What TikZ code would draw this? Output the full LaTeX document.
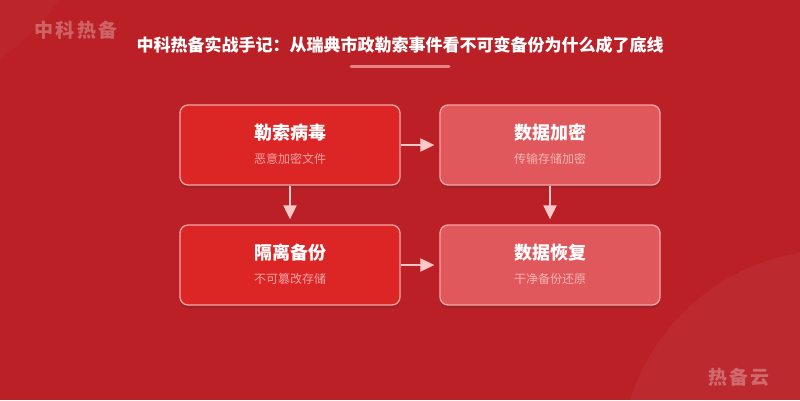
\documentclass[tikz,border=0pt]{standalone}
\usepackage{fontspec}
\newfontfamily\cjk{Noto Sans CJK SC}
\newfontfamily\cjkwide{Noto Sans CJK SC}[LetterSpace=12]
\usetikzlibrary{calc,shadows,arrows.meta}

\definecolor{bgred}{HTML}{BA2025}
\definecolor{hotred}{HTML}{DC2626}
\definecolor{softred}{HTML}{E0585C}
\definecolor{pinkline}{HTML}{F9A3A3}
\definecolor{pinksub}{HTML}{F6B4B4}
\definecolor{pinkarrow}{HTML}{FDC8C8}

\begin{document}
\begin{tikzpicture}[x=1pt,y=-1pt,
  card/.style={draw=pinkline, line width=1.3pt, rounded corners=8pt,
    minimum width=220pt, minimum height=80pt,
    drop shadow={shadow xshift=0pt, shadow yshift=-3pt, opacity=0.25, fill=black!80}},
  cardtitle/.style={text=white, font=\cjk\bfseries\fontsize{18}{20}\selectfont},
  cardsub/.style={font=\cjk\fontsize{12}{14}\selectfont},
  flow/.style={draw=pinkarrow, line width=2pt, -{Triangle[length=14pt,width=13pt]}, shorten >=5pt},
  logo/.style={text=white, text opacity=0.3, font=\cjkwide\bfseries\fontsize{19}{21}\selectfont}]

  % background
  \fill[bgred] (0,0) rectangle (800,400);
  \begin{scope}
    \clip (0,0) rectangle (800,400);
    \fill[white, opacity=0.03] (-200,-200) circle [radius=328pt];
    \fill[white, opacity=0.045] (835,465) circle [radius=215pt];
  \end{scope}
  \useasboundingbox (0,0) rectangle (800,400);

  \node[logo] (brand) at (76,30.5) {中科热备};
  \node[logo] (cloud) at (739,377.5) {热备云};

  \node[text=white, font=\cjk\bfseries\fontsize{17}{20}\selectfont] (title) at (400,45)
    {中科热备实战手记：从瑞典市政勒索事件看不可变备份为什么成了底线};
  \draw[pinkline, opacity=0.75, line width=3pt, line cap=round] (351,66) -- (449,66);

  \foreach \n/\x/\y/\c/\t/\s/\sc in {
      ransom/290/145/hotred/勒索病毒/恶意加密文件/pinkline,
      encrypt/550/145/softred/数据加密/传输存储加密/pinksub,
      isolate/290/265/hotred/隔离备份/不可篡改存储/pinkline,
      restore/550/265/softred/数据恢复/干净备份还原/pinksub} {
    \node[card, fill=\c] (\n) at (\x,\y) {};
    \node[cardtitle] (\n-t) at ($(\n)+(0,-12.5)$) {\t};
    \node[cardsub, text=\sc] (\n-s) at ($(\n)+(0,14)$) {\s};
  }

  \draw[flow] (ransom) -- (encrypt);
  \draw[flow] (ransom) -- (isolate);
  \draw[flow] (encrypt) -- (restore);
  \draw[flow] (isolate) -- (restore);
\end{tikzpicture}
\end{document}
